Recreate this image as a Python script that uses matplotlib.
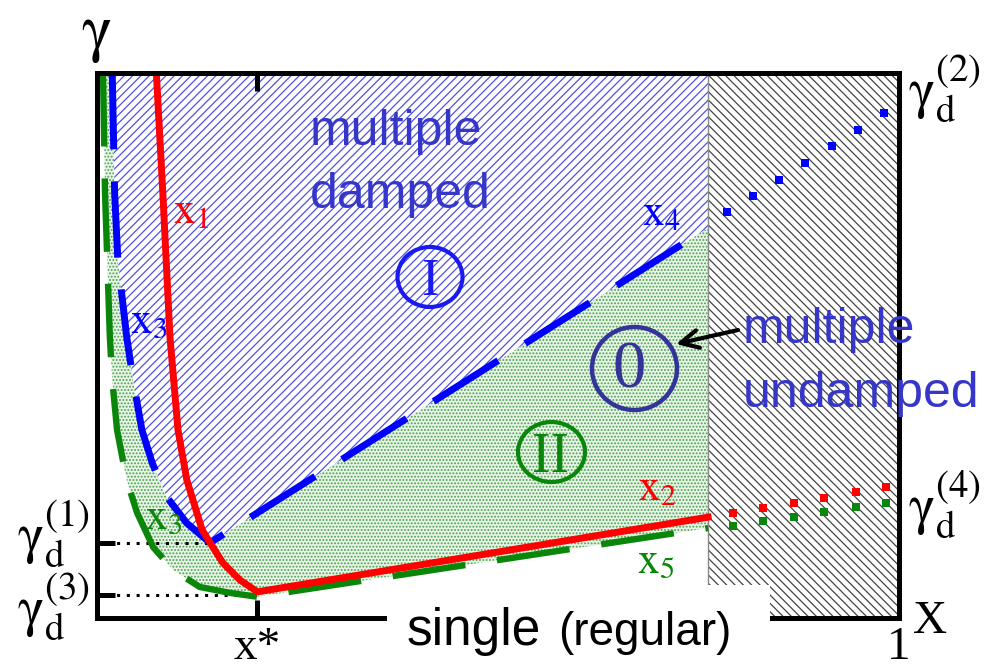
import matplotlib
matplotlib.use('Agg')
import matplotlib.pyplot as plt
from matplotlib.patches import Rectangle, Ellipse

plt.rcParams['mathtext.fontset'] = 'stix'
plt.rcParams['hatch.linewidth'] = 0.9

# ---------------- data (x in [0,1], gamma scaled to [0,1]) ----------------
x_star = 0.2
x_forbidden = 0.762            # beyond this x the region is hatched
gamma_d1 = 0.138
gamma_d3 = 0.042
ref_x_end = [0.141, 0.200]     # where the dotted reference lines end
ref_gamma = [gamma_d1, gamma_d3]

# red curve: x1 (steep) then x2 (shallow)
red_x = [0.074, 0.082, 0.091, 0.101, 0.112, 0.131, 0.141, 0.157, 0.178, 0.200, 0.762]
red_y = [1.000, 0.782, 0.515, 0.345, 0.253, 0.162, 0.138, 0.101, 0.070, 0.048, 0.185]

# blue dashed curve: x3 then x4
blue_x = [0.019, 0.022, 0.026, 0.037, 0.045, 0.056, 0.069, 0.087, 0.112, 0.141, 0.762]
blue_y = [1.000, 0.780, 0.657, 0.516, 0.437, 0.345, 0.284, 0.222, 0.174, 0.138, 0.716]

# green dashed curve: x3 then x5
green_x = [0.0075, 0.010, 0.016, 0.019, 0.025, 0.037, 0.050, 0.070, 0.095, 0.128, 0.166, 0.200, 0.762]
green_y = [1.000, 0.780, 0.516, 0.437, 0.345, 0.253, 0.193, 0.130, 0.088, 0.057, 0.046, 0.039, 0.165]

# dotted continuations inside hatched region
blue_dot_x = [0.786, 0.818, 0.850, 0.883, 0.916, 0.949, 0.981]
blue_dot_y = [0.745, 0.774, 0.804, 0.835, 0.866, 0.895, 0.927]
red_dot_x = [0.793, 0.830, 0.869, 0.907, 0.946, 0.984]
red_dot_y = [0.193, 0.202, 0.211, 0.220, 0.231, 0.240]
green_dot_x = [0.793, 0.830, 0.869, 0.907, 0.946, 0.984]
green_dot_y = [0.169, 0.178, 0.185, 0.194, 0.204, 0.211]

RED = '#ff0000'
BLUE = '#0000ff'
GREEN = '#0a870a'
TXTBLUE = '#3636c8'

W, H = 992, 670
def P(px, py):
    return (px / W, 1 - py / H)

fig = plt.figure(figsize=(W / 100, H / 100), dpi=100)
ax = fig.add_axes([97 / W, 1 - 618 / H, 802 / W, 545 / H])
ax.set_xlim(0, 1)
ax.set_ylim(0, 1)

# ---- regions ----
gx = list(green_x) + [x_forbidden] + list(blue_x[::-1])
gy = list(green_y) + [blue_y[-1]] + list(blue_y[::-1])
ax.fill(gx, gy, facecolor='#e8f4e8', hatch='.....', edgecolor='#4aa04a', linewidth=0, zorder=1)

bx = list(blue_x) + [x_forbidden]
by = list(blue_y) + [1.0]
ax.fill(bx, by, facecolor='white', hatch='////', edgecolor='#5050e6', linewidth=0, zorder=1)

ax.add_patch(Rectangle((x_forbidden, 0), 1 - x_forbidden, 1, facecolor='white',
                       hatch='\\\\\\\\', edgecolor='#444444', linewidth=0, zorder=1))
ax.plot([x_forbidden, x_forbidden], [0, 1], color='#888888', lw=1.0, zorder=2)

# ---- curves ----
ax.plot(green_x, green_y, color=GREEN, lw=4.6, dashes=(11.5, 5), zorder=4)
ax.plot(blue_x, blue_y, color=BLUE, lw=5, dashes=(11, 4.6), zorder=5)
ax.plot(red_x, red_y, color=RED, lw=5, solid_joinstyle='round', zorder=6)

ax.plot(blue_dot_x, blue_dot_y, 's', color=BLUE, ms=6, mew=0, zorder=5)
ax.plot(red_dot_x, red_dot_y, 's', color=RED, ms=6, mew=0, zorder=5)
ax.plot(green_dot_x, green_dot_y, 's', color=GREEN, ms=6, mew=0, zorder=5)

for xe, g in zip(ref_x_end, ref_gamma):
    ax.plot([0, xe], [g, g], color='black', lw=2.2, dashes=(1, 2.2), zorder=3)

# ---- axes frame and ticks ----
for s in ax.spines.values():
    s.set_linewidth(3.6)
    s.set_zorder(7)
ax.set_xticks([x_star, 1.0])
ax.set_xticklabels(['x*', '1'], fontfamily='Liberation Serif', fontsize=34)
ax.set_yticks(ref_gamma)
ax.set_yticklabels(['', ''])
ax.tick_params(axis='x', direction='in', length=13, width=3.6, top=True, pad=6)
ax.tick_params(axis='y', direction='in', length=13, width=3.6)

# white box under "single (regular)"
fig.add_artist(Rectangle(P(387, 670), (770 - 387) / W, (670 - 585) / H,
                         transform=fig.transFigure, facecolor='white',
                         edgecolor='none', zorder=1))

# ---- texts ----
serif = 'Liberation Serif'
sans = 'Liberation Sans'
fig.text(*P(96, 34), r'$\mathrm{\gamma}$', fontsize=46, ha='center', va='center')
fig.text(*P(930, 633), 'X', family=serif, fontsize=34, ha='center', va='baseline')

fig.text(*P(90, 533), r'$\mathrm{\gamma}_{\mathrm{d}}^{(1)}$', fontsize=40, ha='right', va='center')
fig.text(*P(90, 606), r'$\mathrm{\gamma}_{\mathrm{d}}^{(3)}$', fontsize=40, ha='right', va='center')
fig.text(*P(908, 88), r'$\mathrm{\gamma}_{\mathrm{d}}^{(2)}$', fontsize=40, ha='left', va='center')
fig.text(*P(908, 504), r'$\mathrm{\gamma}_{\mathrm{d}}^{(4)}$', fontsize=40, ha='left', va='center')

fig.text(*P(310, 145), 'multiple', family=sans, fontsize=36, color=TXTBLUE, va='baseline')
fig.text(*P(310, 208), 'damped', family=sans, fontsize=36, color=TXTBLUE, va='baseline')
fig.text(*P(743, 343), 'multiple', family=sans, fontsize=36, color=TXTBLUE, va='baseline')
fig.text(*P(743, 407), 'undamped', family=sans, fontsize=36, color=TXTBLUE, va='baseline')
fig.text(*P(407, 645), 'single', family=sans, fontsize=37, color='black', va='baseline')
fig.text(*P(558, 645), '(regular)', family=sans, fontsize=33, color='black', va='baseline')

lab = dict(fontsize=31, va='baseline', ha='left')
fig.text(*P(173, 223), r'$\mathrm{x}_{1}$', color=RED, **lab)
fig.text(*P(642, 225), r'$\mathrm{x}_{4}$', color=BLUE, **lab)
fig.text(*P(130, 332), r'$\mathrm{x}_{3}$', color=BLUE, **lab)
fig.text(*P(145, 528), r'$\mathrm{x}_{3}$', color=GREEN, **lab)
fig.text(*P(638, 500), r'$\mathrm{x}_{2}$', color=RED, **lab)
fig.text(*P(637, 572), r'$\mathrm{x}_{5}$', color=GREEN, **lab)

# circled region labels
fig.add_artist(Ellipse(P(430, 277), 65 / W, 60 / H, transform=fig.transFigure,
                       fill=False, edgecolor='#1a1aee', lw=3, zorder=3))
fig.text(*P(430, 295), 'I', family=serif, fontsize=38, color='#1a1aee', ha='center', va='baseline')
fig.add_artist(Ellipse(P(634.5, 368.5), 85 / W, 83 / H, transform=fig.transFigure,
                       fill=False, edgecolor='#333399', lw=3.2, zorder=3))
fig.text(*P(629, 387), '0', family=serif, fontsize=48, color='#333399', ha='center', va='baseline')
fig.add_artist(Ellipse(P(551.5, 452), 67 / W, 60 / H, transform=fig.transFigure,
                       fill=False, edgecolor=GREEN, lw=3, zorder=3))
fig.text(*P(550, 472), 'II', family=serif, fontsize=40, color=GREEN, ha='center', va='baseline')

# arrow
ax.annotate('', xy=(676, H - 344), xytext=(738, H - 330), xycoords='figure pixels',
            textcoords='figure pixels',
            arrowprops=dict(arrowstyle='->', lw=3, color='black', mutation_scale=32,
                            shrinkA=0, shrinkB=0), zorder=8)

fig.savefig('out.png', dpi=100)
